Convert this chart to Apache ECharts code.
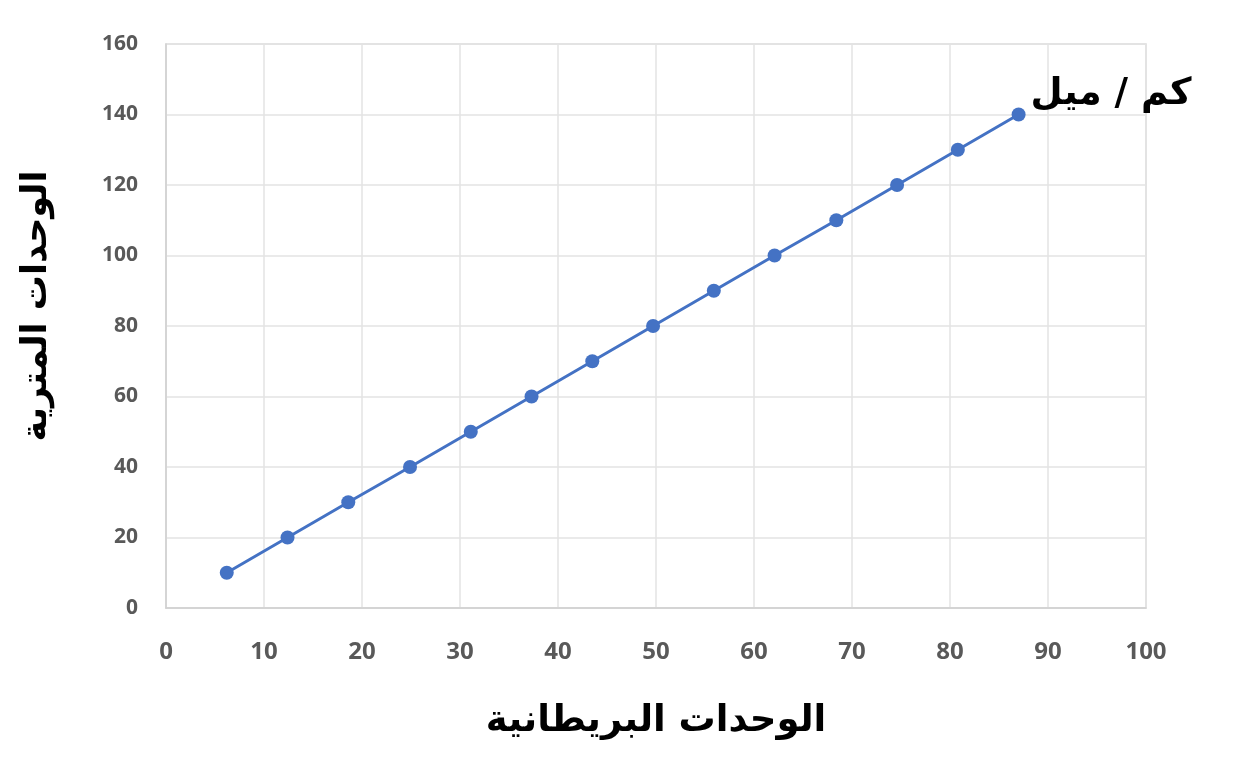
<!DOCTYPE html>
<html><head><meta charset="utf-8">
<script src="https://cdn.jsdelivr.net/npm/echarts@6/dist/echarts.min.js"></script>
<style>html,body{margin:0;padding:0;background:#fff}#c{width:1242px;height:766px}</style>
</head><body><div id="c"></div>
<script>
var miles = [6.2, 12.4, 18.6, 24.9, 31.1, 37.3, 43.5, 49.7, 55.9, 62.1, 68.4, 74.6, 80.8, 87.0];
var km = [10, 20, 30, 40, 50, 60, 70, 80, 90, 100, 110, 120, 130, 140];
var xTitle = 'الوحدات البريطانية';
var yTitle = 'الوحدات المترية';
var seriesLabel = 'كم / ميل';

var chart = echarts.init(document.getElementById('c'));
var pts = miles.map(function (m, i) { return [m, km[i]]; });
chart.setOption({
  animation: false,
  grid: { left: 166, top: 44, width: 980, height: 564, show: true, borderColor: '#d9d9d9', borderWidth: 1.5 },
  xAxis: {
    type: 'value', min: 0, max: 100, interval: 10,
    axisLine: { show: true, lineStyle: { color: '#d0d0d0', width: 1.5 } },
    axisTick: { show: false },
    splitLine: { show: true, lineStyle: { color: '#e3e3e3', width: 1.5 } },
    axisLabel: { color: '#595959', fontSize: 24, fontWeight: 'bold', fontFamily: 'Open Sans', margin: 32 },
    name: xTitle, nameLocation: 'middle', nameGap: 95,
    nameTextStyle: { color: '#000', fontSize: 37, fontWeight: 'bold', fontFamily: 'DejaVu Sans' }
  },
  yAxis: {
    type: 'value', min: 0, max: 160, interval: 20,
    axisLine: { show: true, lineStyle: { color: '#d0d0d0', width: 1.5 } },
    axisTick: { show: false },
    splitLine: { show: true, lineStyle: { color: '#e3e3e3', width: 1.5 } },
    axisLabel: { color: '#595959', fontSize: 21, fontWeight: 'bold', fontFamily: 'Open Sans', margin: 28 },
    name: yTitle, nameLocation: 'middle', nameGap: 112, nameRotate: 90,
    nameTextStyle: { color: '#000', fontSize: 35, fontWeight: 'bold', fontFamily: 'DejaVu Sans', padding: [0, 0, 0, 40] }
  },
  series: [{
    type: 'line', data: pts,
    symbol: 'circle', symbolSize: 14,
    lineStyle: { color: '#4472C4', width: 3 },
    itemStyle: { color: '#4472C4' },
    endLabel: {
      show: true, formatter: seriesLabel, color: '#000', fontSize: 37, fontWeight: 'bold',
      fontFamily: 'DejaVu Sans', offset: [4, -20]
    }
  }]
});
</script></body></html>
